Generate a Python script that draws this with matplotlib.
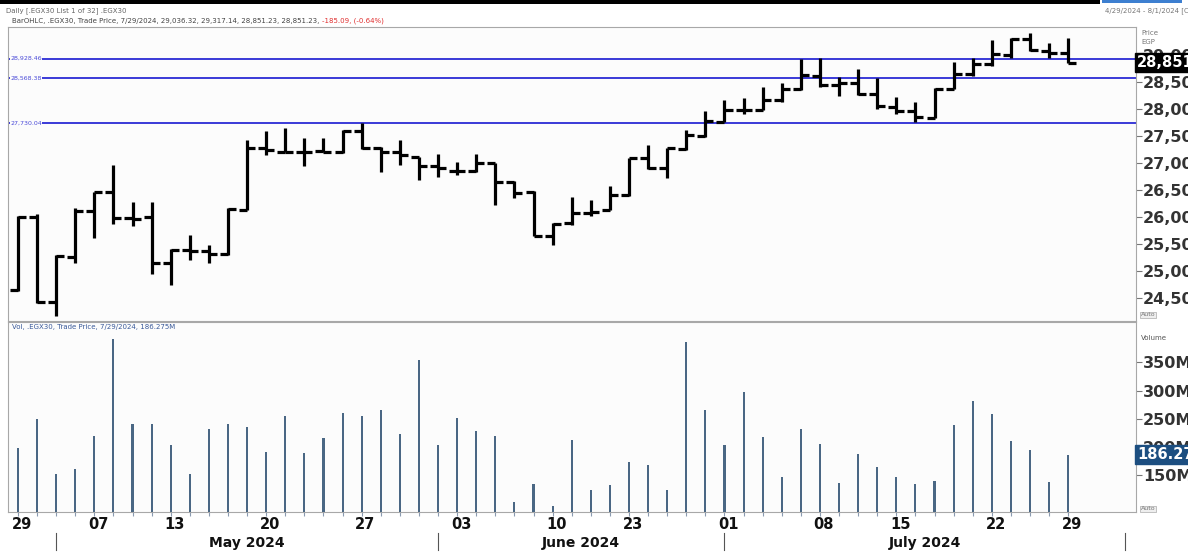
import matplotlib
matplotlib.use('Agg')
import matplotlib.pyplot as plt
from matplotlib.patches import Rectangle
import numpy as np

# ---------------- data ----------------
opens = [24640, 26000, 24420, 25260, 26100, 26450, 25970, 25990, 25140, 25390,
         25360, 25310, 26130, 27280, 27200, 27200, 27210, 27200, 27580, 27280,
         27200, 27110, 26930, 26850, 26850, 26990, 26650, 26450, 25650, 25890,
         26070, 26130, 26400, 27080, 26900, 27250, 27500, 27760, 27980, 27980,
         28160, 28360, 28600, 28430, 28480, 28280, 28040, 27960, 27830, 28370,
         28650, 28820, 29000, 29290, 29070, 29036.32]
highs = [26020, 26050, 25290, 26170, 26460, 26960, 26280, 26280, 25400, 25660,
         25480, 26160, 27420, 27580, 27640, 27450, 27450, 27610, 27730, 27290,
         27420, 27110, 27170, 27020, 27170, 26990, 26660, 26470, 25880, 26370,
         26310, 26570, 27080, 27330, 27270, 27610, 27960, 28160, 28190, 28410,
         28480, 28920, 28930, 28590, 28740, 28570, 28220, 28120, 28380, 28860,
         28930, 29270, 29310, 29400, 29210, 29317.14]
lows = [24620, 24400, 24160, 25150, 25600, 25870, 25820, 24940, 24740, 25190,
        25140, 25300, 26120, 27150, 27190, 26930, 27190, 27180, 27260, 26820,
        26960, 26680, 26740, 26770, 26830, 26220, 26340, 25640, 25480, 25850,
        26010, 26120, 26390, 26890, 26720, 27230, 27480, 27760, 27910, 27970,
        28130, 28350, 28400, 28240, 28260, 28000, 27900, 27760, 27820, 28360,
        28610, 28800, 28930, 29070, 28930, 28851.23]
closes = [26000, 24430, 25270, 26100, 26450, 25970, 25960, 25140, 25390, 25370,
          25310, 26140, 27280, 27230, 27200, 27200, 27200, 27590, 27270, 27200,
          27140, 26930, 26900, 26850, 26990, 26650, 26430, 25650, 25870, 26070,
          26080, 26400, 27080, 26900, 27270, 27510, 27780, 27980, 27970, 28160,
          28360, 28620, 28430, 28470, 28270, 28050, 27960, 27850, 28370, 28650,
          28820, 29010, 29290, 29090, 29036.32, 28851.23]
volumes_m = [197, 249, 151, 161, 219, 392, 241, 241, 203, 151,
             231, 241, 235, 191, 254, 189, 216, 260, 254, 265,
             222, 354, 203, 252, 228, 220, 101, 133, 95, 212,
             123, 132, 173, 168, 123, 387, 266, 203, 298, 218,
             146, 232, 205, 136, 187, 164, 146, 134, 139, 239,
             282, 259, 211, 195, 138, 186.275]

level_lines = [28928.46, 28568.38, 27730.04]
level_labels = ['28,928.46', '28,568.38', '27,730.04']

price_ticks = [24500, 25000, 25500, 26000, 26500, 27000, 27500, 28000, 28500, 29000]
volume_ticks = [150, 200, 250, 300, 350]

day_labels = ['29', '07', '13', '20', '27', '03', '10', '23', '01', '08', '15', '22', '29']
day_label_bar = [0, 4, 8, 13, 18, 23, 28, 32, 37, 42, 46, 51, 55]
month_labels = ['May 2024', 'June 2024', 'July 2024']
month_start_bar = [2, 22, 37, 58]

last_close = 28851.23
last_volume = 186.275

# ---------------- figure ----------------
W, H = 1188, 555
fig = plt.figure(figsize=(W / 100, H / 100), dpi=100)
fig.patch.set_facecolor('white')

def fx(px):
    return px / W

def fy(py):
    return 1 - py / H

xl = (-0.52, 58.55)
axp = fig.add_axes([fx(8), fy(321), fx(1136) - fx(8), fy(27) - fy(321)])
axv = fig.add_axes([fx(8), fy(512), fx(1136) - fx(8), fy(322) - fy(512)])

for ax in (axp, axv):
    ax.set_facecolor('#fcfcfc')
    ax.set_xlim(*xl)
    for s in ax.spines.values():
        s.set_color('#a8a8a8')
        s.set_linewidth(0.8)

n = len(opens)
x = np.arange(n)

# price bars
lw = 2.3
tick = 0.42
axp.vlines(x, lows, highs, color='black', lw=lw, zorder=3)
axp.hlines(opens, x - tick, x, color='black', lw=lw, zorder=3)
axp.hlines(closes, x, x + tick, color='black', lw=lw, zorder=3)

# horizontal levels
for lv, lb in zip(level_lines, level_labels):
    axp.axhline(lv, color='#3a3ad8', lw=1.4, zorder=2)
    axp.text(0.002, lv, lb, transform=axp.get_yaxis_transform(), fontsize=4.5,
             color='#4a4ad8', va='center', ha='left', zorder=4,
             bbox=dict(facecolor='#fcfcfc', edgecolor='none', pad=0.3))

axp.set_ylim(24069, 29513)
axp.yaxis.tick_right()
axp.set_yticks(price_ticks)
axp.set_yticklabels([f'{t:,}' for t in price_ticks])
axp.tick_params(axis='y', length=4, color='#777777', labelsize=11.5,
                labelcolor='#333333', pad=1)
for t in axp.get_yticklabels():
    t.set_fontweight('bold')
axp.set_xticks([])
axp.text(1.001, last_close, f'{last_close:,.0f}', transform=axp.get_yaxis_transform(),
         fontsize=10.5, fontweight='bold', color='white', va='center', ha='left',
         bbox=dict(facecolor='black', edgecolor='black', pad=1.6), zorder=10,
         clip_on=False)

# volume
axv.bar(x, volumes_m, width=0.11, color='#4a6784', zorder=3)
axv.set_ylim(84, 422)
axv.yaxis.tick_right()
axv.set_yticks(volume_ticks)
axv.set_yticklabels([f'{t}M' for t in volume_ticks])
axv.tick_params(axis='y', length=4, color='#777777', labelsize=11.5,
                labelcolor='#333333', pad=1)
for t in axv.get_yticklabels():
    t.set_fontweight('bold')
axv.text(1.001, last_volume, f'{last_volume:.3f}', transform=axv.get_yaxis_transform(),
         fontsize=10.5, fontweight='bold', color='white', va='center', ha='left',
         bbox=dict(facecolor='#1c4e80', edgecolor='#1c4e80', pad=1.6), zorder=10,
         clip_on=False)

axv.set_xticks(x)
axv.set_xticklabels([])
axv.tick_params(axis='x', length=3, color='#8a9ab0', direction='out')

# date labels
xt = axv.get_xaxis_transform()
for lb, b in zip(day_labels, day_label_bar):
    axv.text(b + 0.2, -0.065, lb, transform=xt, ha='center', va='center',
             fontsize=10.5, fontweight='bold', color='#111111', clip_on=False)
for i, lb in enumerate(month_labels):
    mid = (month_start_bar[i] + month_start_bar[i + 1]) / 2
    axv.text(mid, -0.165, lb, transform=xt, ha='center', va='center',
             fontsize=10, fontweight='bold', color='#111111', clip_on=False)
for b in month_start_bar:
    axv.plot([b, b], [-0.11, -0.2], transform=xt, color='#555555', lw=0.8,
             clip_on=False)

# header texts
fig.patches.append(Rectangle((0, fy(4)), fx(1100), fy(0) - fy(4), transform=fig.transFigure,
                             facecolor='black', edgecolor='none'))
fig.patches.append(Rectangle((fx(1102), fy(3)), fx(80), fy(0) - fy(3), transform=fig.transFigure,
                             facecolor='#3d7fd0', edgecolor='none'))
fig.text(fx(6), fy(11), 'Daily [.EGX30 List 1 of 32] .EGX30', fontsize=5, color='#666666',
         va='center', ha='left')
fig.text(fx(1105), fy(11), '4/29/2024 - 8/1/2024 [CA', fontsize=5, color='#777777',
         va='center', ha='left')
hdr = fig.text(fx(12), fy(21),
               'BarOHLC, .EGX30, Trade Price, 7/29/2024, 29,036.32, 29,317.14, 28,851.23, 28,851.23, ',
               fontsize=5, color='#444444', va='center', ha='left')
axp.annotate('-185.09, (-0.64%)', xy=(1, 0.5), xycoords=hdr, fontsize=5, color='#e03030',
             va='center', ha='left', annotation_clip=False)
fig.text(fx(12), fy(327), 'Vol, .EGX30, Trade Price, 7/29/2024, 186.275M', fontsize=5,
         color='#3a5a9a', va='center', ha='left')
fig.text(fx(1141), fy(33), 'Price', fontsize=5, color='#777777', va='center', ha='left')
fig.text(fx(1141), fy(42), 'EGP', fontsize=5, color='#777777', va='center', ha='left')
fig.text(fx(1141), fy(338), 'Volume', fontsize=5, color='#555555', va='center', ha='left')
for yy in (315, 509):
    fig.text(fx(1141), fy(yy), 'Auto', fontsize=4.5, color='#777777', va='center', ha='left',
             bbox=dict(facecolor='#eeeeee', edgecolor='#aaaaaa', pad=0.6, lw=0.5))

fig.savefig('out.png', dpi=100)
